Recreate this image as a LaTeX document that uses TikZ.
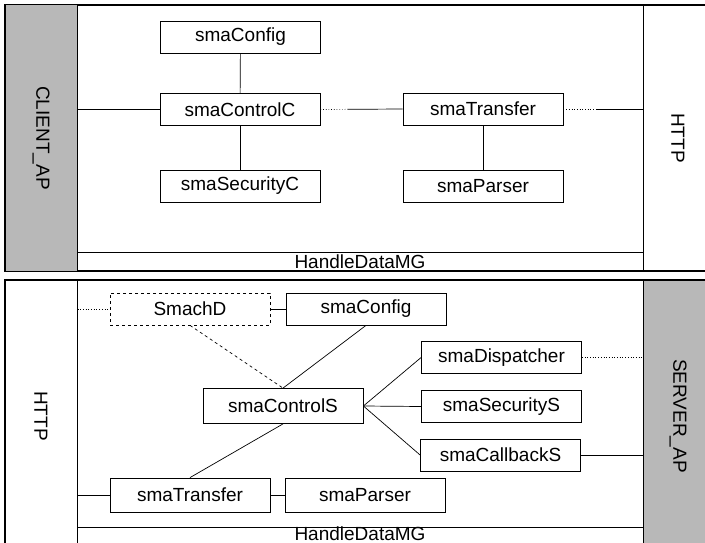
\documentclass[tikz,border=0pt]{standalone}
\usepackage{fontspec}
\setmainfont{Liberation Sans}
\usepackage{tikz}
\usetikzlibrary{calc}

\tikzset{
  comp/.style={draw, line width=0.8pt, minimum width=160pt, minimum height=32pt, inner sep=0pt},
  ghostcomp/.style={comp, dashed},
  strip/.style={draw, line width=0.9pt, minimum width=566pt, minimum height=19pt, inner sep=0pt},
  side/.style={draw, line width=1pt, rotate=-90, inner sep=0pt},
  apside/.style={side, fill=black!28},
  link/.style={line width=0.7pt},
  dotlink/.style={link, dotted},
  dashlink/.style={link, dashed}
}

\begin{document}
\begin{tikzpicture}[x=1pt, y=-1pt, font=\fontsize{19}{22}\selectfont]

\useasboundingbox (0,0) rectangle (705,543);
\clip (0,0) rectangle (705,543);

% Upper panel: client side
\draw[line width=1.2pt] (5,5) rectangle (712,271);
\node[apside, minimum width=266pt, minimum height=72pt] (clientap) at (41,138) {CLIENT\_AP};
\node[side, minimum width=266pt, minimum height=70pt] (httpC) at (678,138) {HTTP};
\node[strip] (hdmC) at (360,261.5) {HandleDataMG};

\node[comp] (cfgC) at (240.5,37) {smaConfig};
\node[comp] (ctlC) at (240,109.5) {smaControlC};
\node[comp] (secC) at (240,186) {smaSecurityC};
\node[comp] (trfC) at (483,109) {smaTransfer};
\node[comp] (prsC) at (483,186) {smaParser};

\coordinate (cutC) at ($(ctlC.east)!0.33!(trfC.west)$);
\coordinate (cutT) at ($(trfC.east)!0.42!(trfC.east -| httpC.south)$);

\draw[link] (ctlC.west) -- (ctlC.west -| clientap.north);
\draw[link] (cfgC) -- (ctlC);
\draw[link] (ctlC) -- (secC);
\draw[dotlink] (ctlC.east) -- (cutC);
\draw[link] (cutC) -- (trfC.west);
\draw[dotlink] (trfC.east) -- (cutT);
\draw[link] (cutT) -- (cutT -| httpC.south);
\draw[link] (trfC) -- (prsC);

% Lower panel: server side
\draw[line width=1.2pt] (5,280) rectangle (712,552);
\node[side, minimum width=272pt, minimum height=72pt] (httpS) at (41,416) {HTTP};
\node[apside, minimum width=272pt, minimum height=70pt] (serverap) at (678,416) {SERVER\_AP};
\draw[line width=0.9pt] (httpS.north |- 527,527) -- (serverap.south |- 527,527);
\node[inner sep=0pt, minimum height=14pt] (hdmS) at (360,534) {HandleDataMG};

\node[ghostcomp] (smachD) at (190,309) {SmachD};
\node[comp] (cfgS) at (366,309) {smaConfig};
\node[comp, minimum height=35pt] (ctlS) at (283,406) {smaControlS};
\node[comp] (dspS) at (501.5,357.5) {smaDispatcher};
\node[comp] (secS) at (501.5,406.5) {smaSecurityS};
\node[comp] (cbkS) at (500.5,455) {smaCallbackS};
\node[comp, minimum height=34pt] (trfS) at (190,495) {smaTransfer};
\node[comp, minimum height=34pt] (prsS) at (365,495) {smaParser};

\draw[dotlink] (smachD.west -| httpS.north) -- (smachD.west);
\draw[link] (smachD) -- (cfgS);
\draw[dashlink] (smachD.south) -- (ctlS.north);
\draw[link] (cfgS.south) -- (ctlS.north);
\draw[link] (ctlS.south) -- (trfS.north);
\draw[link] (ctlS.east) -- (dspS.west);
\draw[link] (ctlS.east) -- (secS.west);
\draw[link] (ctlS.east) -- (cbkS.west);
\draw[dotlink] (dspS.east) -- (dspS.east -| serverap.south);
\draw[link] (cbkS.east) -- (cbkS.east -| serverap.south);
\draw[link] (trfS.west -| httpS.north) -- (trfS.west);
\draw[link] (trfS) -- (prsS);

\end{tikzpicture}
\end{document}
